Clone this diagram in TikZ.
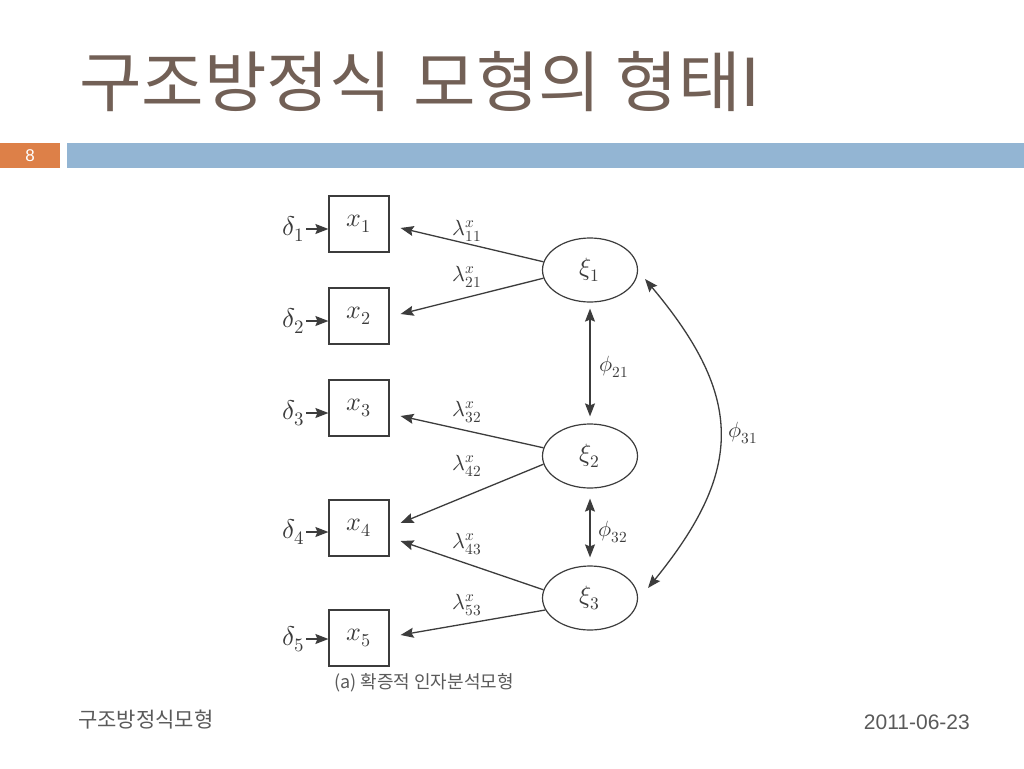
\documentclass[tikz,border=0pt]{standalone}
\usepackage{fontspec}
\usepackage{unicode-math}
\setmathfont{Latin Modern Math}
\usetikzlibrary{shapes.geometric,arrows.meta,calc}
\newfontfamily\kr{Noto Sans CJK KR}
\newfontfamily\krwide[FakeStretch=1.03]{Noto Sans CJK KR}
\newfontfamily\lib{Liberation Sans}
\definecolor{titlecol}{RGB}{114,96,86}
\definecolor{orangebox}{RGB}{221,128,72}
\definecolor{bluebar}{RGB}{147,181,211}
\definecolor{ink}{RGB}{60,60,60}
\definecolor{foot}{RGB}{90,90,90}
\begin{document}
\begin{tikzpicture}[x=1pt,y=-1pt,
 obs/.style={draw=ink,line width=1.2pt,minimum width=60pt,minimum height=56pt,inner sep=0pt,font=\fontsize{26}{28}\selectfont,text=ink},
 lat/.style={ellipse,draw=ink,line width=1.2pt,minimum width=95pt,minimum height=64pt,inner sep=0pt,font=\fontsize{25}{28}\selectfont,text=ink},
 err/.style={inner sep=1pt,font=\fontsize{27}{28}\selectfont,text=ink},
 lab/.style={inner sep=0pt,font=\fontsize{22}{24}\selectfont,text=ink},
 arr/.style={draw=ink,line width=1.3pt,-{Stealth[length=13pt,width=10pt,inset=2pt]}},
 darr/.style={draw=ink,line width=1.3pt,{Stealth[length=13pt,width=10pt,inset=2pt]}-{Stealth[length=13pt,width=10pt,inset=2pt]}}
]
\useasboundingbox (0,0) rectangle (1024,768);
\fill[white] (0,0) rectangle (1024,768);

% title and header bars
\node[anchor=base west,text=titlecol,font=\krwide\fontsize{66}{72}\selectfont,inner sep=0pt] (title) at (79,106) {구조방정식\hspace{22pt}모형의\hspace{14pt}형태I};
\node[fill=orangebox,anchor=north west,minimum width=60pt,minimum height=25pt,inner sep=0pt,text=white,font=\lib\fontsize{17}{18}\selectfont] (num) at (0,143) {8};
\node[fill=bluebar,anchor=north west,minimum width=957pt,minimum height=25pt,inner sep=0pt] (bar) at (67,143) {};

% observed variables
\node[obs] (x1) at (359,224) {$x_1$};
\node[obs] (x2) at (359,316) {$x_2$};
\node[obs] (x3) at (359,408) {$x_3$};
\node[obs] (x4) at (359,528) {$x_4$};
\node[obs] (x5) at (359,638) {$x_5$};

% errors
\node[err,anchor=east] (d1) at (306,229) {$\delta_1$};
\node[err,anchor=east] (d2) at (306,321) {$\delta_2$};
\node[err,anchor=east] (d3) at (306,413) {$\delta_3$};
\node[err,anchor=east] (d4) at (306,532) {$\delta_4$};
\node[err,anchor=east] (d5) at (306,639) {$\delta_5$};
\foreach \i in {1,...,5}{
  \draw[arr] (d\i.east) -- (d\i.east -| x\i.west);
}

% latent variables
\node[lat] (xi1) at (590,270) {$\xi_1$};
\node[lat] (xi2) at (590,456) {$\xi_2$};
\node[lat] (xi3) at (590,598) {$\xi_3$};

% loadings
\draw[arr] (xi1.170) -- ($(x1.east)+(11,4)$);
\draw[arr] (xi1.190) -- ($(x2.east)+(11,-2)$);
\draw[arr] (xi2.170) -- ($(x3.east)+(11,8)$);
\draw[arr] (xi2.190) -- ($(x4.east)+(11,-5)$);
\draw[arr] (xi3.170) -- ($(x4.east)+(11,13)$);
\draw[arr] (xi3.195) -- ($(x5.east)+(11,-3)$);

\node[lab] (l11) at (467,231) {$\lambda^x_{11}$};
\node[lab] (l21) at (467,277) {$\lambda^x_{21}$};
\node[lab] (l32) at (467,412) {$\lambda^x_{32}$};
\node[lab] (l42) at (467,466) {$\lambda^x_{42}$};
\node[lab] (l43) at (467,544) {$\lambda^x_{43}$};
\node[lab] (l53) at (467,605) {$\lambda^x_{53}$};

% covariances
\draw[darr] ($(xi1.south)+(0,6)$) -- ($(xi2.north)+(0,-7)$);
\node[lab] (f21) at (614,367) {$\phi_{21}$};
\draw[darr] ($(xi2.south)+(0,10)$) -- ($(xi3.north)+(0,-8)$);
\node[lab] (f32) at (613,532) {$\phi_{32}$};
\coordinate (p1) at ($(xi1.center)+(55,9)$);
\coordinate (p3) at ($(xi3.center)+(58,-10)$);
\draw[darr] (p1) .. controls +(99,118) and +(96,-118) .. (p3);
\node[lab] (f31) at (743,433) {$\phi_{31}$};

% caption and footer
\node[font=\kr\fontsize{18}{20}\selectfont,text=foot,inner sep=0pt] (cap) at (424,683) {(a) 확증적 인자분석모형};
\node[anchor=west,font=\kr\fontsize{21}{24}\selectfont,text=foot,inner sep=0pt] (ft) at (78,720) {구조방정식모형};
\node[anchor=east,font=\lib\fontsize{21}{24}\selectfont,text=foot,inner sep=0pt] (date) at (970,722) {2011-06-23};
\end{tikzpicture}
\end{document}
